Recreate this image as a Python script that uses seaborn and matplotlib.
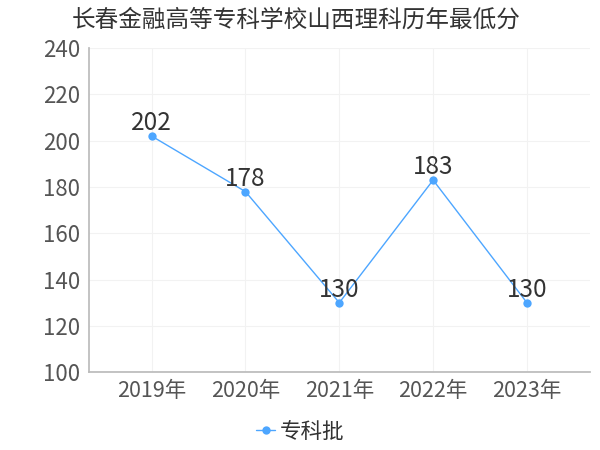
import pandas as pd
import matplotlib
matplotlib.use("Agg")
import matplotlib.pyplot as plt
import seaborn as sns

# --- data ---
years = ["2019年", "2020年", "2021年", "2022年", "2023年"]
scores = [202, 178, 130, 183, 130]
series_name = "专科批"
title = "长春金融高等专科学校山西理科历年最低分"

sns.set_theme(style="white")
plt.rcParams['font.family'] = ['Noto Sans CJK SC', 'DejaVu Sans']

line_color = "#4da6ff"
df = pd.DataFrame({"year": years, "score": scores, "batch": series_name})

fig = plt.figure(figsize=(6, 4.5), dpi=100)
ax = fig.add_axes([0.148, 0.173, 0.835, 0.72])

sns.lineplot(data=df, x="year", y="score", hue="batch", palette=[line_color],
             marker="o", markersize=6, markeredgewidth=0, linewidth=1,
             ax=ax, sort=False)

# value labels
for i, v in enumerate(scores):
    ax.annotate(str(v), (i, v), xytext=(0, 0), textcoords="offset points",
                ha="center", va="bottom", fontsize=17.5, color="#333333")

ax.set_ylim(100, 240)
ax.set_yticks(range(100, 241, 20))
ax.set_xlim(-0.67, 4.67)
ax.set_xlabel("")
ax.set_ylabel("")

ax.grid(True, color="#f2f2f2", linewidth=0.8)
ax.tick_params(axis="y", labelsize=16, colors="#555555", length=0, pad=6)
ax.tick_params(axis="x", labelsize=15.5, colors="#555555", length=0, pad=6)
for s in ["top", "right"]:
    ax.spines[s].set_visible(False)
ax.spines["left"].set_color("#bbbbbb")
ax.spines["bottom"].set_color("#bbbbbb")

fig.text(0.12, 0.955, title, fontsize=17, color="#333333", ha="left", va="center")

# legend centred on the figure, below the axis
handles, labels = ax.get_legend_handles_labels()
ax.get_legend().remove()
fig.legend(handles, labels, loc="center", bbox_to_anchor=(0.5, 0.04), frameon=False,
           fontsize=15.5, handlelength=0.9, handletextpad=0.2, labelcolor="#333333")

fig.savefig("out.png", dpi=100)
